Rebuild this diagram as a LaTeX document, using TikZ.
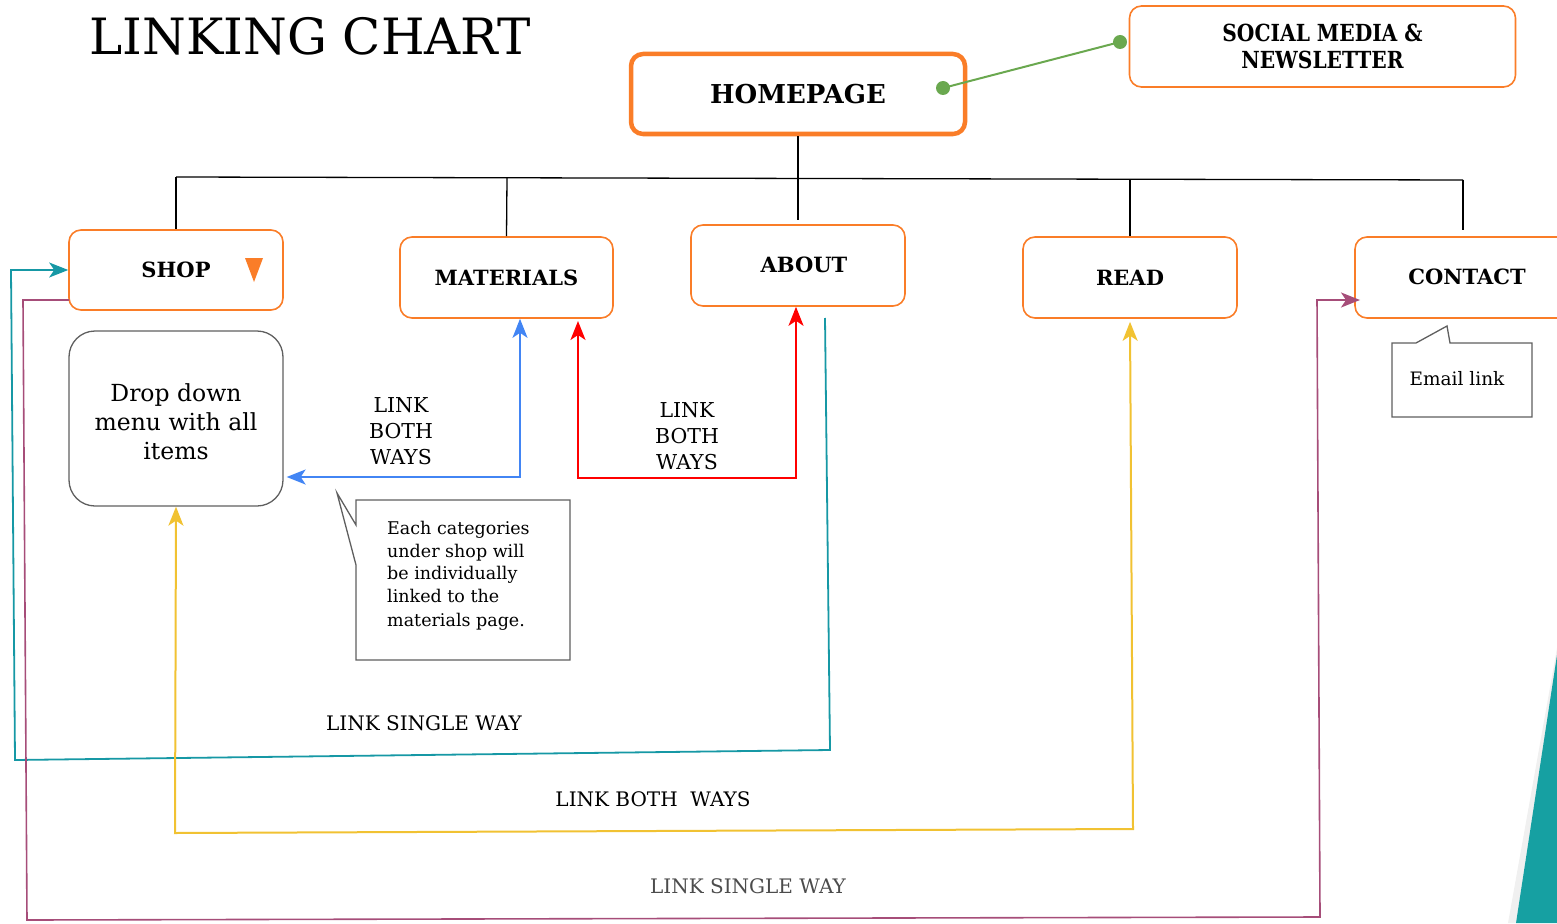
\documentclass[tikz,border=0pt]{standalone}
\usepackage{fontspec}
\setmainfont{DejaVu Serif}
\usetikzlibrary{arrows.meta}
\definecolor{orng}{RGB}{250,125,40}
\definecolor{tealc}{RGB}{22,152,165}
\definecolor{bluec}{RGB}{66,133,244}
\definecolor{yellc}{RGB}{241,194,50}
\definecolor{mauve}{RGB}{166,77,121}
\definecolor{greenc}{RGB}{106,168,79}
\definecolor{grayb}{RGB}{95,95,95}
\definecolor{tri}{RGB}{22,160,162}
\tikzset{
  obox/.style={draw=orng, line width=1.6pt, rounded corners=12pt, fill=white},
  btxt/.style={font=\bfseries\fontsize{21}{24}\selectfont},
  ltxt/.style={font=\fontsize{20.5}{26}\selectfont, align=center},
  stxt/.style={font=\fontsize{20}{24}\selectfont},
  tipb/.style={-{Stealth[length=19pt,width=15pt,inset=5pt]}},
  tipbb/.style={{Stealth[length=19pt,width=15pt,inset=5pt]}-{Stealth[length=19pt,width=15pt,inset=5pt]}},
}
\begin{document}
\begin{tikzpicture}[x=1pt,y=-1pt]
\useasboundingbox (0,0) rectangle (1557,923);
% decorative triangle
\fill[black!6] (1557,648) -- (1508,923) -- (1516,923) -- (1557,658) -- cycle;
\fill[tri] (1557,655) -- (1516,923) -- (1557,923) -- cycle;
% title
\node[anchor=west, font=\fontsize{50}{54}\selectfont] (title) at (86,36) {LINKING CHART};
% hierarchy lines
\coordinate (hl) at (176,177);
\coordinate (hr) at (1463,180);
\draw[line width=1.3pt] (hl) -- (hr);
% boxes
\node[obox, line width=4.5pt, minimum width=334pt, minimum height=80pt, font=\bfseries\fontsize{26}{30}\selectfont] (home) at (798,94) {HOMEPAGE};
\node[obox, minimum width=386pt, minimum height=81pt, align=center, font=\bfseries\fontsize{23.5}{27}\selectfont] (social) at (1322.5,46.5) {\scalebox{0.86}[1]{SOCIAL MEDIA \&}\\\scalebox{0.86}[1]{NEWSLETTER}};
\node[obox, minimum width=214pt, minimum height=80pt] (shop) at (176,270) {};
\node[btxt] (shoptxt) at (176,270) {SHOP};
\fill[orng] (245,258) -- (263,258) -- (254,282) -- cycle;
\node[obox, minimum width=213pt, minimum height=81pt, btxt] (mat) at (506.5,277.5) {MATERIALS};
\node[obox, minimum width=214pt, minimum height=81pt] (about) at (798,265.5) {};
\node[btxt] (abouttxt) at (804,265) {ABOUT};
\node[obox, minimum width=214pt, minimum height=81pt, btxt] (read) at (1130,277.5) {READ};
\node[obox, minimum width=215pt, minimum height=81pt] (contact) at (1462.5,277.5) {};
\node[btxt] (contacttxt) at (1467,277) {CONTACT};
% connectors from hierarchy
\draw[line width=1.3pt] (home.south) -- (798,220);
\draw[line width=1.3pt] (hl) -- (shop.north);
\draw[line width=1.3pt] (507,178) -- (mat.north);
\draw[line width=1.3pt] (1130,179) -- (read.north);
\draw[line width=1.3pt] (hr) -- (1463,230);
% social link
\coordinate (g1) at (943,88);
\coordinate (g2) at (1120,42);
\draw[greenc, line width=2pt] (g1) -- (g2);
\fill[greenc] (g1) circle (7pt);
\fill[greenc] (g2) circle (7pt);
% drop down box
\node[draw=grayb, line width=1.3pt, rounded corners=26pt, minimum width=214pt, minimum height=175pt] (drop) at (176,418.5) {};
\node[align=center, font=\fontsize{23.5}{29}\selectfont] (droptxt) at (176,422) {Drop down\\menu with all\\items};
% callout 1
\draw[grayb, line width=1.3pt, fill=white] (356,500) -- (570,500) -- (570,660) -- (356,660) -- (356,565) -- (337,493) -- (356,525) -- cycle;
\node[anchor=north west, align=left, font=\fontsize{17.5}{22.5}\selectfont, inner sep=0pt] (c1) at (387,521) {Each categories\\under shop will\\be individually\\linked to the\\[2pt]materials page.};
% callout 2
\draw[grayb, line width=1.3pt, fill=white] (1392,343) -- (1416,343) -- (1447,326) -- (1450,343) -- (1532,343) -- (1532,417) -- (1392,417) -- cycle;
\node[font=\fontsize{18.5}{22}\selectfont] (c2) at (1457,379) {Email link};
% blue
\coordinate (b1) at (520,477);
\draw[bluec, line width=2pt, tipbb] (drop.east |- b1) ++(3,0) -- (b1) -- (mat.south -| b1);
\node[ltxt] (lb1) at (401,431) {LINK\\BOTH\\WAYS};
% red
\coordinate (r1) at (578,478);
\coordinate (r2) at (796,478);
\draw[red, line width=2pt, tipbb] (578,321) -- (r1) -- (r2) -- (about.south -| r2);
\node[ltxt] (lb2) at (687,436) {LINK\\BOTH\\WAYS};
% teal
\coordinate (t1) at (825,318);
\coordinate (t2) at (830,750);
\coordinate (t3) at (15,760);
\coordinate (t4) at (11,270);
\draw[tealc, line width=1.8pt, tipb] (t1) -- (t2) -- (t3) -- (t4) -- (shop.west);
\node[stxt] (lb3) at (424,723) {LINK SINGLE WAY};
% yellow
\coordinate (y1) at (1133,829);
\coordinate (y2) at (175,833);
\draw[yellc, line width=2pt, tipbb] (read.south) ++(0,3) -- (y1) -- (y2) -- (drop.south);
\node[stxt] (lb4) at (653,799) {LINK BOTH\ \ WAYS};
% mauve
\coordinate (m0) at (69,300);
\coordinate (m1) at (23,300);
\coordinate (m2) at (27,920);
\coordinate (m3) at (1320,917);
\coordinate (m4) at (1317,300);
\coordinate (m5) at (1360,300);
\draw[mauve, line width=1.6pt, tipb] (m0) -- (m1) -- (m2) -- (m3) -- (m4) -- (m5);
\node[stxt, text=black!70] (lb5) at (748,886) {LINK SINGLE WAY};
\end{tikzpicture}
\end{document}
